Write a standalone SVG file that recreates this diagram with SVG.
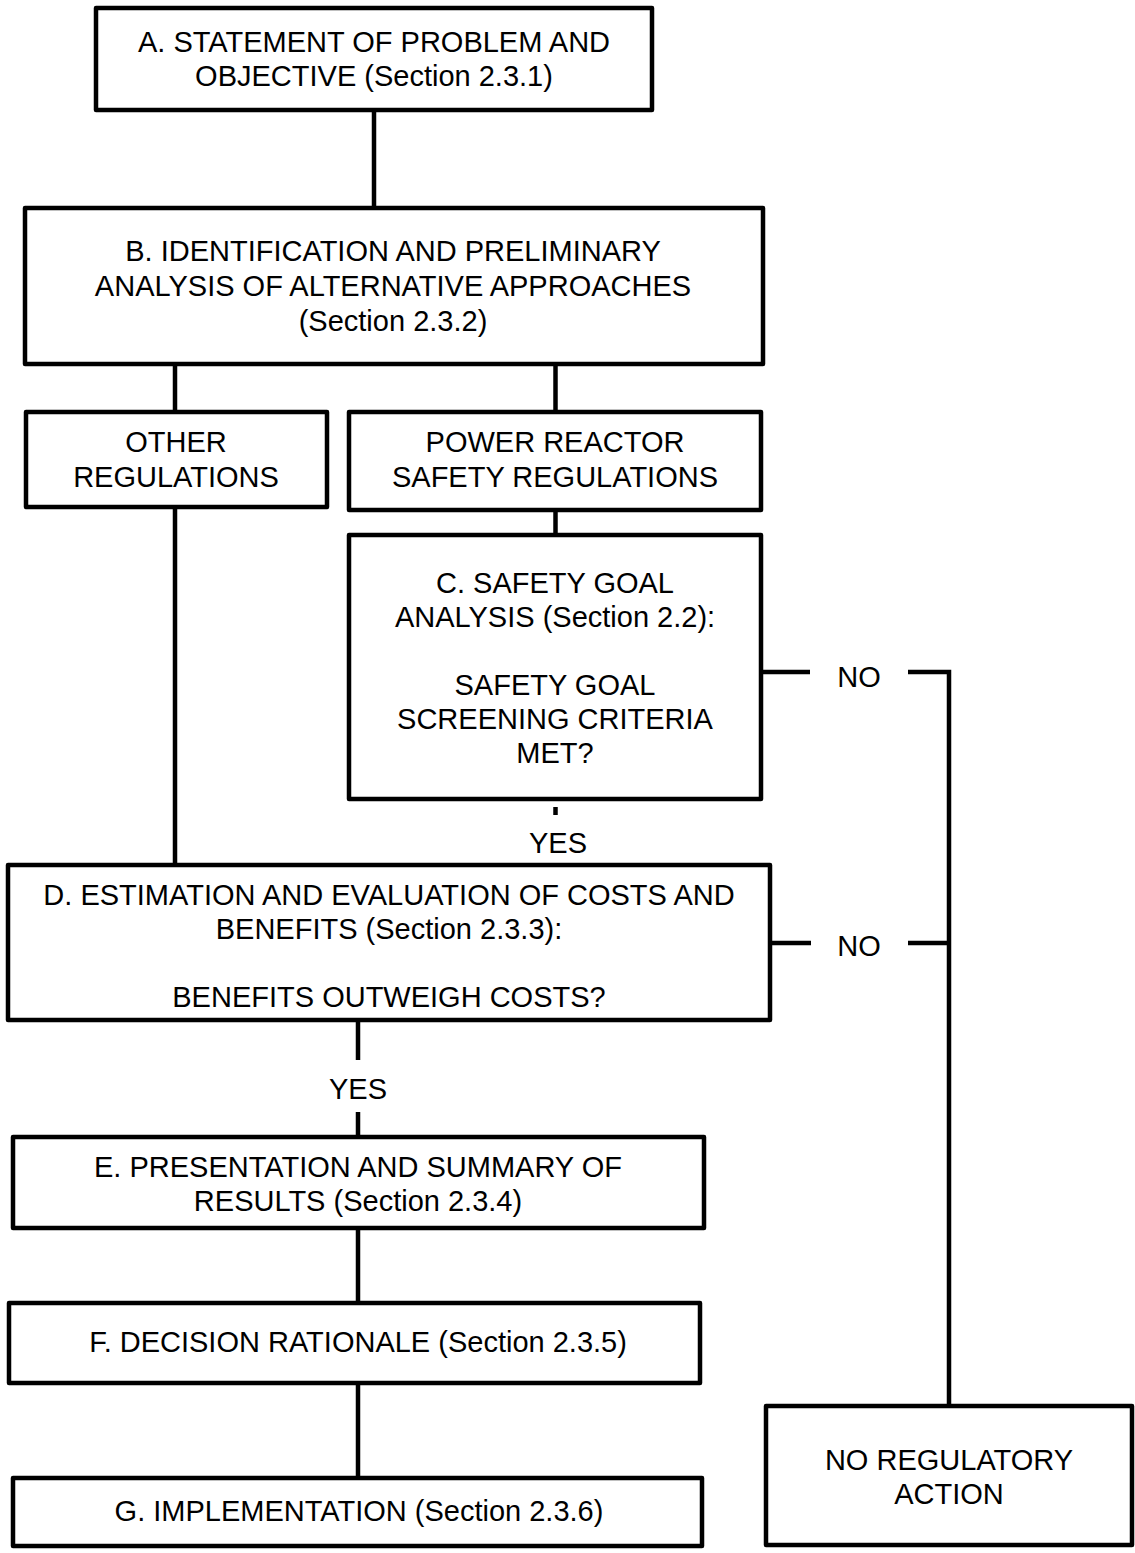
<svg xmlns="http://www.w3.org/2000/svg" width="1135" height="1553" viewBox="0 0 1135 1553">
<style>
.box{fill:#fff;stroke:#000;stroke-width:4.5;stroke-linejoin:round}
.ln{fill:none;stroke:#000;stroke-width:4.5}
text{font-family:"Liberation Sans",Arial,sans-serif;font-size:29px;fill:#000;text-anchor:middle}
</style>
<rect width="1135" height="1553" fill="#fff"/>
<g id="connectors">
<path class="ln" d="M374 110V208"/>
<path class="ln" d="M175 364V412"/>
<path class="ln" d="M555.5 364V412"/>
<path class="ln" d="M555.5 510V547"/>
<path class="ln" d="M175 507V865"/>
<path class="ln" d="M555.5 807V815"/>
<path class="ln" d="M761 672H810M908 672H949V1406"/>
<path class="ln" d="M770 943H811M908 943H949"/>
<path class="ln" d="M358 1020V1060M358 1112V1137"/>
<path class="ln" d="M358 1228V1303"/>
<path class="ln" d="M358 1383V1478"/>
<text x="859" y="687">NO</text>
<text x="859" y="956">NO</text>
<text x="558" y="853">YES</text>
<text x="358" y="1099">YES</text>
</g>
<g id="nodeA">
<rect class="box" x="96" y="8" width="556" height="102"/>
<text x="374" y="52">A. STATEMENT OF PROBLEM AND</text>
<text x="374" y="86">OBJECTIVE (Section 2.3.1)</text>
</g>
<g id="nodeB">
<rect class="box" x="25" y="208" width="738" height="156"/>
<text x="393" y="261">B. IDENTIFICATION AND PRELIMINARY</text>
<text x="393" y="296">ANALYSIS OF ALTERNATIVE APPROACHES</text>
<text x="393" y="331">(Section 2.3.2)</text>
</g>
<g id="nodeOther">
<rect class="box" x="26" y="412" width="301" height="95"/>
<text x="176" y="452">OTHER</text>
<text x="176" y="487">REGULATIONS</text>
</g>
<g id="nodePower">
<rect class="box" x="349" y="412" width="412" height="98"/>
<text x="555" y="452">POWER REACTOR</text>
<text x="555" y="487">SAFETY REGULATIONS</text>
</g>
<g id="nodeC">
<rect class="box" x="349" y="535" width="412" height="264"/>
<text x="555" y="593">C. SAFETY GOAL</text>
<text x="555" y="627">ANALYSIS (Section 2.2):</text>
<text x="555" y="695">SAFETY GOAL</text>
<text x="555" y="729">SCREENING CRITERIA</text>
<text x="555" y="763">MET?</text>
</g>
<g id="nodeD">
<rect class="box" x="8" y="865" width="762" height="155"/>
<text x="389" y="905">D. ESTIMATION AND EVALUATION OF COSTS AND</text>
<text x="389" y="939">BENEFITS (Section 2.3.3):</text>
<text x="389" y="1007">BENEFITS OUTWEIGH COSTS?</text>
</g>
<g id="nodeE">
<rect class="box" x="13" y="1137" width="691" height="91"/>
<text x="358" y="1177">E. PRESENTATION AND SUMMARY OF</text>
<text x="358" y="1211">RESULTS (Section 2.3.4)</text>
</g>
<g id="nodeF">
<rect class="box" x="9" y="1303" width="691" height="80"/>
<text x="358" y="1352">F. DECISION RATIONALE (Section 2.3.5)</text>
</g>
<g id="nodeG">
<rect class="box" x="13" y="1478" width="689" height="68"/>
<text x="359" y="1521">G. IMPLEMENTATION (Section 2.3.6)</text>
</g>
<g id="nodeNoAction">
<rect class="box" x="766" y="1406" width="366" height="139"/>
<text x="949" y="1470">NO REGULATORY</text>
<text x="949" y="1504">ACTION</text>
</g>
</svg>
